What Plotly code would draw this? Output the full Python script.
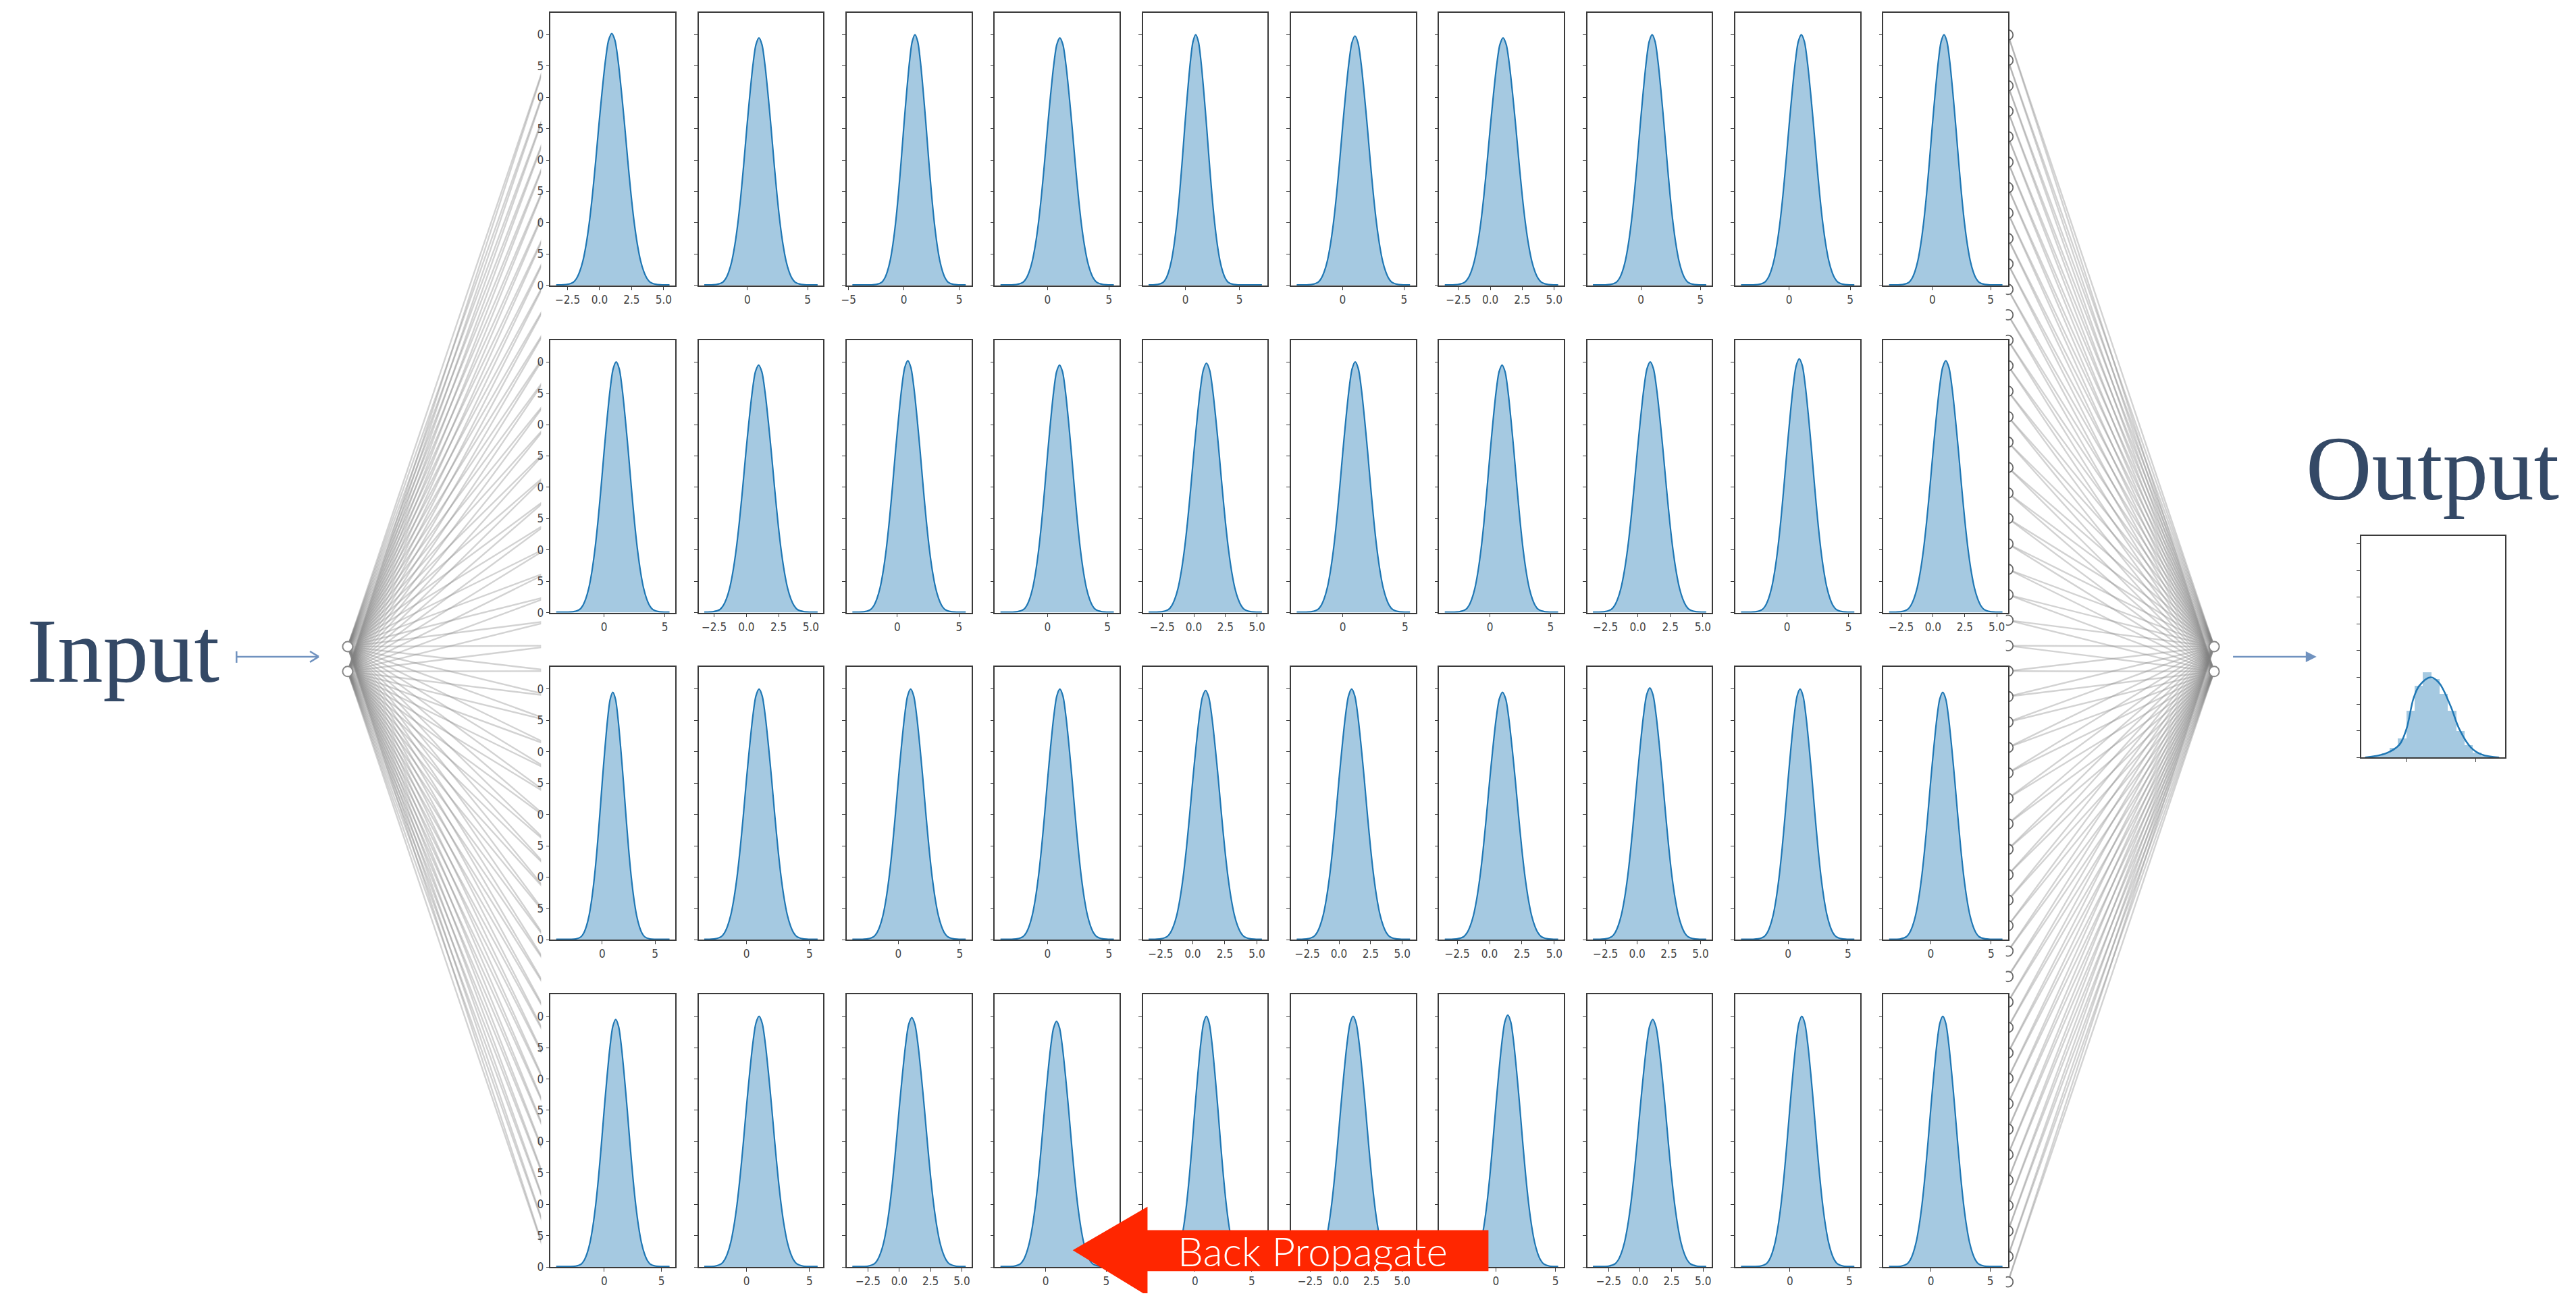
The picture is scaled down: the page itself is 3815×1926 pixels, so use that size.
import plotly.graph_objects as go

W, H = 3815, 1926

# ---------------- data ----------------
# shared KDE profile (offset from the peak, density)
kde_offsets = [-4.0, -3.5, -3.0, -2.75, -2.5, -2.25, -2.0, -1.75, -1.5, -1.25, -1.0, -0.75, -0.5, -0.25, 0.0,
               0.25, 0.5, 0.75, 1.0, 1.25, 1.5, 1.75, 2.0, 2.25, 2.5, 2.75, 3.0, 3.5, 4.0]
kde_density = [0.0005, 0.0015, 0.005, 0.011, 0.022, 0.039, 0.065, 0.100, 0.145, 0.198, 0.255, 0.308, 0.355, 0.388, 0.399,
               0.388, 0.355, 0.308, 0.255, 0.198, 0.145, 0.100, 0.065, 0.039, 0.022, 0.011, 0.005, 0.0015, 0.0005]

# x tick spacing of each panel (rows of 10)
tick_step = [
    [2.5, 5, 5, 5, 5, 5, 2.5, 5, 5, 5],
    [5, 2.5, 5, 5, 2.5, 5, 5, 2.5, 5, 2.5],
    [5, 5, 5, 5, 2.5, 2.5, 2.5, 2.5, 5, 5],
    [5, 5, 2.5, 5, 5, 2.5, 5, 2.5, 5, 5],
]
panel_mean = [
    [0.95, 0.96, 1.0, 1.0, 0.95, 1.0, 1.0, 0.95, 1.0, 1.0],
    [1.0, 0.95, 0.85, 1.0, 1.0, 1.0, 1.0, 0.95, 1.0, 1.0],
    [1.0, 1.0, 1.0, 1.0, 1.0, 1.0, 1.0, 1.0, 1.0, 1.0],
    [1.0, 1.0, 1.0, 0.9, 1.0, 1.0, 1.0, 1.0, 1.0, 1.0],
]
panel_peak = [
    [0.402, 0.395, 0.400, 0.395, 0.400, 0.398, 0.395, 0.400, 0.400, 0.400],
    [0.400, 0.395, 0.402, 0.395, 0.398, 0.400, 0.395, 0.400, 0.405, 0.402],
    [0.395, 0.400, 0.400, 0.400, 0.398, 0.400, 0.395, 0.402, 0.400, 0.395],
    [0.395, 0.400, 0.398, 0.392, 0.400, 0.400, 0.402, 0.395, 0.400, 0.400],
]
data_lo = [
    [-3.39, -3.57, -4.66, -3.84, -3.41, -3.74, -3.56, -4.02, -3.94, -3.71],
    [-3.93, -3.26, -3.64, -3.93, -3.58, -3.70, -3.73, -3.46, -3.74, -3.45],
    [-4.36, -3.35, -3.74, -3.84, -3.44, -3.34, -3.46, -3.49, -3.93, -3.43],
    [-4.20, -3.35, -3.75, -3.73, -4.10, -3.60, -4.28, -3.75, -4.12, -3.52],
]
data_hi = [
    [5.46, 5.82, 5.59, 5.40, 7.08, 5.48, 5.31, 5.49, 5.34, 6.01],
    [5.38, 5.52, 5.54, 5.53, 5.39, 5.40, 5.63, 5.26, 5.48, 5.45],
    [6.36, 5.65, 5.48, 5.40, 5.39, 5.61, 5.30, 5.45, 5.53, 5.93],
    [5.70, 5.65, 5.31, 5.63, 5.90, 5.64, 5.22, 5.25, 5.42, 6.02],
]
density_ticks = [0.0, 0.05, 0.10, 0.15, 0.20, 0.25, 0.30, 0.35, 0.40]
density_tick_labels = ["0", "5", "0", "5", "0", "5", "0", "5", "0"]   # only last digits visible

# output distribution
out_bin_centers = [-2.7, -2.1, -1.5, -0.9, -0.3, 0.3, 0.9, 1.5, 2.1, 2.7, 3.3, 3.9, 4.5, 5.1, 5.7, 6.3]
out_bin_heights = [0.001, 0.005, 0.012, 0.028, 0.058, 0.14, 0.215, 0.255, 0.235, 0.19, 0.14, 0.08, 0.038, 0.014, 0.005, 0.002]
out_kde_x = [-2.96, -1.52, -0.49, 0.02, 0.53, 0.95, 1.77, 2.38, 3.2, 3.83, 4.66, 5.48, 6.7]
out_kde_y = [0.0, 0.011, 0.038, 0.085, 0.177, 0.215, 0.24, 0.223, 0.154, 0.085, 0.03, 0.008, 0.0]
out_x_ticks = [0, 5]
out_y_ticks = [0.0, 0.08, 0.16, 0.24, 0.32, 0.40, 0.48, 0.56, 0.64]

# ---------------- styling / layout ----------------
BLUE = "#1f77b4"
FILL = "rgba(31,119,180,0.40)"
FRAME = "#3a3a3a"
TICKFONT = dict(family="Liberation Sans Narrow, DejaVu Sans Condensed, DejaVu Sans", size=17, color="#444")
TEXT_BLUE = "#344966"
ARROW_BLUE = "#7092bf"

PANEL_LEFT, PANEL_PITCH_X, PANEL_W = 809, 219.8, 185
PANEL_TOP, PANEL_PITCH_Y, PANEL_H = 19, 487.3, 406
N_HIDDEN = 50
HIDDEN_TOP, HIDDEN_STEP = 52, 37.9
IN_X, OUT_X = 508, 3278
IO_Y = [963, 1000]
HID_L_X, HID_R_X = 815, 2972
COVER_L, COVER_R = 795, 2969

fig = go.Figure()
layout = dict(
    width=W, height=H, margin=dict(l=0, r=0, t=0, b=0),
    paper_bgcolor="white", plot_bgcolor="white", showlegend=False,
    xaxis=dict(domain=[0, 1], range=[0, W], visible=False, fixedrange=True),
    yaxis=dict(domain=[0, 1], range=[H, 0], visible=False, fixedrange=True),
    bargap=0,
)

# ---- network lines (diagram axes, pixel-like coordinates) ----
hid_y = [HIDDEN_TOP + HIDDEN_STEP * i for i in range(N_HIDDEN)]
lx, ly = [], []
for iy in IO_Y:
    for hy in hid_y:
        lx += [IN_X, HID_L_X, None]
        ly += [iy, hy, None]
for oy in IO_Y:
    for hy in hid_y:
        lx += [HID_R_X, OUT_X, None]
        ly += [hy, oy, None]
fig.add_trace(go.Scatter(x=lx, y=ly, mode="lines", xaxis="x", yaxis="y",
                         line=dict(color="rgba(130,130,130,0.36)", width=2.4), hoverinfo="skip"))
# right hidden-layer nodes (left halves hidden by the panel block)
fig.add_trace(go.Scatter(x=[HID_R_X] * N_HIDDEN, y=hid_y, mode="markers", xaxis="x", yaxis="y",
                         marker=dict(size=15, color="white", line=dict(color="#666", width=1.8)), hoverinfo="skip"))
# white block behind the panels
fig.add_trace(go.Scatter(x=[COVER_L, COVER_R, COVER_R, COVER_L, COVER_L], y=[-20, -20, H + 20, H + 20, -20],
                         mode="lines", fill="toself", fillcolor="white", line=dict(width=0, color="white"),
                         xaxis="x", yaxis="y", hoverinfo="skip"))
# input / output nodes
fig.add_trace(go.Scatter(x=[IN_X, IN_X, OUT_X, OUT_X], y=IO_Y + IO_Y, mode="markers", xaxis="x", yaxis="y",
                         marker=dict(size=15, color="white", line=dict(color="#888", width=2)), hoverinfo="skip"))


def fmt(v, step):
    s = f"{v:.1f}" if step == 2.5 else f"{int(round(v))}"
    return s.replace("-", "\u2212")


# ---- 40 distribution panels ----
for r in range(4):
    for c in range(10):
        idx = 2 + r * 10 + c
        left = PANEL_LEFT + PANEL_PITCH_X * c
        top = PANEL_TOP + PANEL_PITCH_Y * r
        lo, hi = data_lo[r][c], data_hi[r][c]
        mean, peak = panel_mean[r][c], panel_peak[r][c]
        pad = 0.05 * (hi - lo)
        xr = [lo - pad, hi + pad]
        step = tick_step[r][c]
        tv = []
        k = int(xr[0] // step)
        while k * step <= xr[1]:
            if k * step >= xr[0]:
                tv.append(k * step)
            k += 1
        scale = peak / max(kde_density)
        xs, ys = [lo], [0.0008]
        for dx, d in zip(kde_offsets, kde_density):
            x = mean + dx
            if lo < x < hi:
                xs.append(x)
                ys.append(max(d * scale, 0.0008))
        xs.append(hi)
        ys.append(0.0008)
        fig.add_trace(go.Scatter(x=xs, y=ys, mode="lines", fill="tozeroy", fillcolor=FILL,
                                 line=dict(color=BLUE, width=2.2, shape="spline", smoothing=0.8),
                                 xaxis=f"x{idx}", yaxis=f"y{idx}", hoverinfo="skip"))
        layout[f"xaxis{idx}"] = dict(
            domain=[left / W, (left + PANEL_W) / W], anchor=f"y{idx}", range=xr,
            tickvals=tv, ticktext=[fmt(v, step) for v in tv], tickfont=TICKFONT,
            showline=True, mirror=True, linecolor=FRAME, linewidth=1.5,
            ticks="outside", ticklen=5, tickwidth=1.2, tickcolor=FRAME,
            showgrid=False, zeroline=False, fixedrange=True)
        layout[f"yaxis{idx}"] = dict(
            domain=[1 - (top + PANEL_H) / H, 1 - top / H], anchor=f"x{idx}", range=[0, 0.435],
            tickvals=density_ticks, ticktext=density_tick_labels, showticklabels=(c == 0),
            tickfont=TICKFONT, showline=True, mirror=True, linecolor=FRAME, linewidth=1.5,
            ticks="outside", ticklen=5, tickwidth=1.2, tickcolor=FRAME,
            showgrid=False, zeroline=False, fixedrange=True)

# ---- output panel ----
oi = 42
fig.add_trace(go.Bar(x=out_bin_centers, y=out_bin_heights, width=0.6, marker=dict(color=FILL, line=dict(width=0)),
                     xaxis=f"x{oi}", yaxis=f"y{oi}", hoverinfo="skip"))
fig.add_trace(go.Scatter(x=out_kde_x, y=out_kde_y, mode="lines",
                         line=dict(color=BLUE, width=2.5, shape="spline", smoothing=1.0),
                         xaxis=f"x{oi}", yaxis=f"y{oi}", hoverinfo="skip"))
layout[f"xaxis{oi}"] = dict(domain=[3496 / W, 3710 / W], anchor=f"y{oi}", range=[-3.25, 7.14],
                            tickvals=out_x_ticks, showticklabels=False, showline=True, mirror=True,
                            linecolor=FRAME, linewidth=1.5, ticks="outside", ticklen=5, tickcolor=FRAME,
                            showgrid=False, zeroline=False, fixedrange=True)
layout[f"yaxis{oi}"] = dict(domain=[1 - 1128 / H, 1 - 798 / H], anchor=f"x{oi}", range=[0, 0.664],
                            tickvals=out_y_ticks, showticklabels=False, showline=True, mirror=True,
                            linecolor=FRAME, linewidth=1.5, ticks="outside", ticklen=5, tickcolor=FRAME,
                            showgrid=False, zeroline=False, fixedrange=True)

# ---- shapes: arrows ----
shapes = [
    # input arrow
    dict(type="line", x0=343, y0=978, x1=465, y1=978, xref="x", yref="y", line=dict(color=ARROW_BLUE, width=2.5)),
    dict(type="line", x0=343, y0=970, x1=343, y1=987, xref="x", yref="y", line=dict(color=ARROW_BLUE, width=2.5)),
    dict(type="line", x0=465, y0=978, x1=452, y1=970, xref="x", yref="y", line=dict(color=ARROW_BLUE, width=2.5)),
    dict(type="line", x0=465, y0=978, x1=452, y1=986, xref="x", yref="y", line=dict(color=ARROW_BLUE, width=2.5)),
    # output arrow
    dict(type="line", x0=3306, y0=978, x1=3416, y1=978, xref="x", yref="y", line=dict(color=ARROW_BLUE, width=2.5)),
    dict(type="path", path="M 3414 970 L 3430 978 L 3414 986 Z", xref="x", yref="y",
         fillcolor=ARROW_BLUE, line=dict(width=0)),
    # back propagate arrow
    dict(type="path", path="M 1584 1862 L 1695 1797 L 1695 1832 L 2201 1832 L 2201 1893 L 1695 1893 L 1695 1930 Z",
         xref="x", yref="y", fillcolor="#ff2600", line=dict(width=0), layer="above"),
]
layout["shapes"] = shapes

layout["annotations"] = [
    dict(text="Input", x=30 / W, y=1 - 970 / H, xref="paper", yref="paper", xanchor="left", yanchor="middle",
         showarrow=False, font=dict(family="Liberation Serif, serif", size=135, color=TEXT_BLUE)),
    dict(text="Output", x=3602 / W, y=1 - 698 / H, xref="paper", yref="paper", xanchor="center", yanchor="middle",
         showarrow=False, font=dict(family="Liberation Serif, serif", size=135, color=TEXT_BLUE)),
    dict(text="Back Propagate", x=1940 / W, y=1 - 1863 / H, xref="paper", yref="paper", xanchor="center",
         yanchor="middle", showarrow=False,
         font=dict(family="Lato, Open Sans, sans-serif", size=60, color="white", weight=300)),
]

fig.update_layout(**layout)
fig.write_html("out.html", config={"displayModeBar": False},
               post_script="document.body.style.margin='0';document.body.style.overflow='hidden';")
